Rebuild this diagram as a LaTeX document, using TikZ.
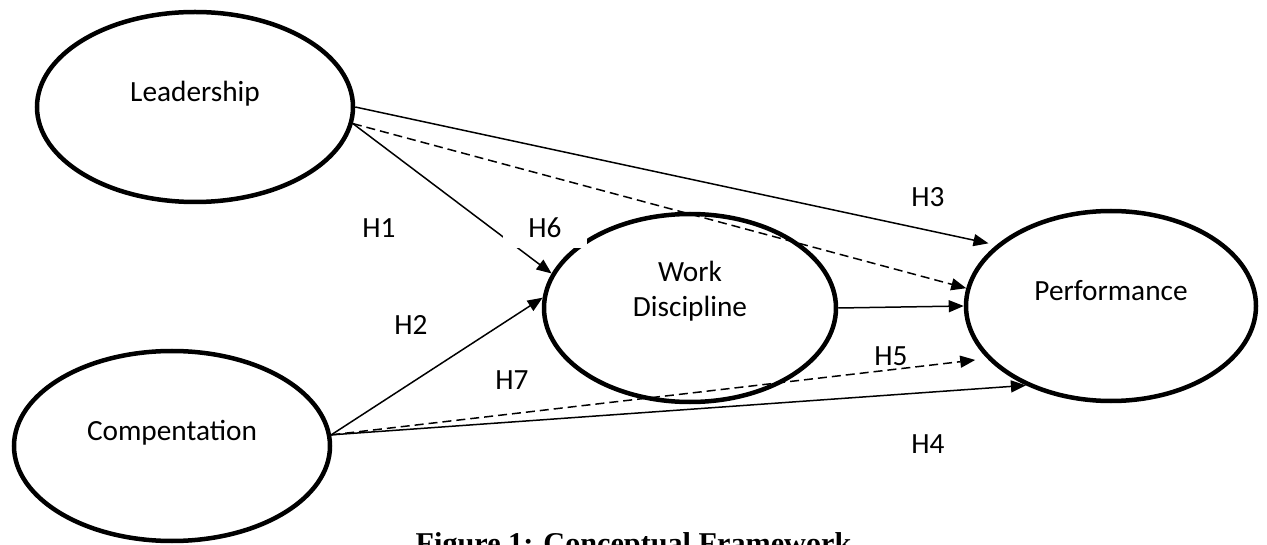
\documentclass[tikz,border=0pt]{standalone}
\usepackage{fontspec}
\setmainfont{Carlito}
\newfontfamily\captionfont{Liberation Serif}
\usetikzlibrary{arrows.meta,shapes.geometric}

\begin{document}
\begin{tikzpicture}[x=1pt, y=-1pt, >={Triangle[length=15pt,width=12pt]},
	every node/.style={font=\fontsize{29.3}{35}\selectfont},
	construct/.style={ellipse, draw, line width=4.5pt, inner sep=0pt, minimum width=316pt, minimum height=190pt, text height=0pt, text depth=11pt},
	link/.style={->, line width=1.5pt},
	dashlink/.style={link, dash pattern=on 9pt off 5pt},
	hyp/.style={anchor=base, inner sep=0pt}]
	\useasboundingbox (0,0) rectangle (1267,545);
	% constructs
	\node[construct] (lead) at (195,107) {Leadership};
	\node[construct] (comp) at (172,446) {Compentation};
	\node[construct, minimum width=292pt, minimum height=188pt, text height=18pt, text depth=0pt] (disc) at (690,308) {\begin{tabular}[b]{@{}c@{}}Work\\Discipline\end{tabular}};
	\node[construct, minimum width=290pt] (perf) at (1111,306) {Performance};
	% paths
	\draw[link, shorten >=8pt] (lead.east) -- (perf.152);
	\draw[dashlink] (lead.-6) -- (perf.173);
	\draw[link] (lead.-6) -- (disc.166);
	\draw[link] (comp.4) -- (disc.176);
	\draw[link] (disc.east) -- (perf.west);
	\draw[dashlink, shorten >=12pt] (comp.4) -- (perf.203);
	\draw[link] (comp.4) -- (perf.223);
	% hypotheses
	\node[hyp] (h1) at (379,238) {H1};
	\node[hyp, fill=white, minimum width=84pt, text height=26pt, text depth=10pt] (h6) at (545,238) {H6};
	\node[hyp] (h3) at (928,207) {H3};
	\node[hyp] (h2) at (411,335) {H2};
	\node[hyp] (h7) at (512,390) {H7};
	\node[hyp] (h5) at (891,366) {H5};
	\node[hyp] (h4) at (928,453) {H4};
	\node[hyp, font=\captionfont\bfseries\fontsize{30.2}{36}\selectfont] (cap) at (633.5,553) {Figure 1: Conceptual Framework};
\end{tikzpicture}
\end{document}
